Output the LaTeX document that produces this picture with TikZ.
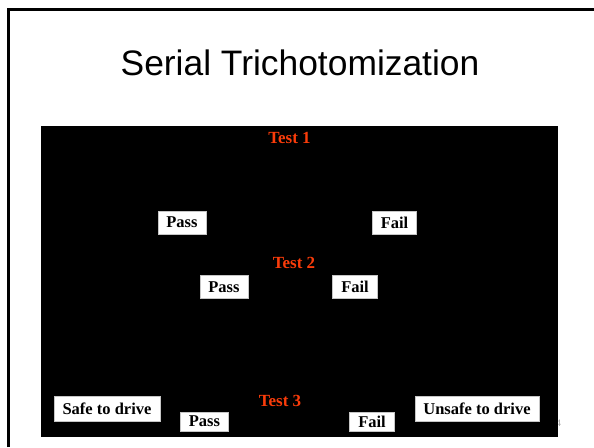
\documentclass[tikz,border=0pt]{standalone}
\usepackage{fontspec}
\setmainfont{Liberation Serif}
\newfontfamily\titlefont{Liberation Sans}
\definecolor{testred}{RGB}{250,60,10}

\begin{document}
\begin{tikzpicture}[x=1pt,y=-1pt,
    answer/.style={fill=white,draw=gray!45,line width=0.6pt,inner xsep=8.5pt,inner ysep=0pt,
      font=\fontsize{16.5}{16.5}\selectfont\bfseries},
    testlbl/.style={text=testred,inner sep=0pt,font=\fontsize{17}{17}\selectfont\bfseries}]
  \useasboundingbox (0,0) rectangle (594,447);
  % slide frame
  \draw[line width=3pt] (8.5,447) -- (8.5,9.5) -- (594,9.5);
  \node[anchor=base,inner sep=0pt,font=\titlefont\fontsize{35.4}{36}\selectfont] (title) at (300,75) {Serial Trichotomization};
  \node[text=gray!70,inner sep=0pt,font=\fontsize{10}{10}\selectfont] (pageno) at (558.5,423) {4};
  \fill[black] (41,126) rectangle (558,437);
  % tests
  \node[testlbl] (test1) at (289.5,137.5) {Test 1};
  \node[testlbl] (test2) at (294,263) {Test 2};
  \node[testlbl] (test3) at (280,401) {Test 3};
  % outcomes
  \foreach \nm/\x/\y/\h/\t in {pass1/182/222.5/23/Pass, fail1/394.5/222.5/23/Fail,
      pass2/224/287/23/Pass, fail2/355/287/23/Fail,
      safe/107/408.5/25/Safe to drive, unsafe/477/408.5/25/Unsafe to drive,
      pass3/204.5/421.5/19/Pass, fail3/372/421.5/19/Fail}{
    \node[answer,minimum height=\h pt] (\nm) at (\x,\y) {\t};
  }
\end{tikzpicture}
\end{document}
